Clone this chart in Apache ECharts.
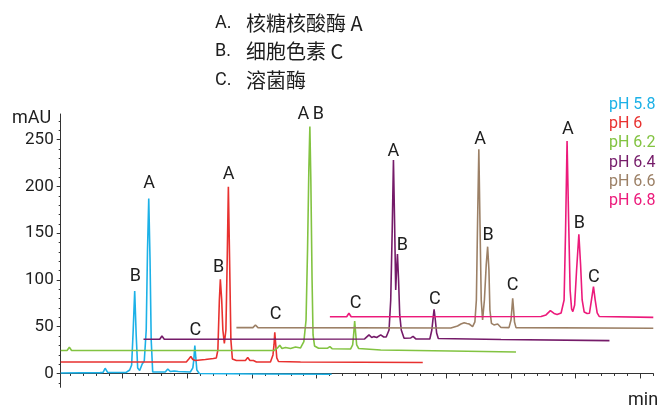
<!DOCTYPE html>
<html><head><meta charset="utf-8">
<script src="https://cdn.jsdelivr.net/npm/echarts@6/dist/echarts.min.js"></script>
<style>html,body{margin:0;padding:0;background:#fff}#c{width:663px;height:409px}</style>
</head><body><div id="c"></div>
<script>
// ---- data ----
const seriesNames = ['pH 5.8', 'pH 6', 'pH 6.2', 'pH 6.4', 'pH 6.6', 'pH 6.8'];
const ph58 = [[0.046,0.5],[0.655,0.9],[0.701,1.1],[0.732,5.6],[0.771,1.1],[1.057,1.1],[1.111,3.7],[1.142,9.1],[1.166,46.5],[1.189,88.2],[1.212,41.2],[1.235,5.9],[1.266,3.2],[1.305,10.2],[1.337,13.4],[1.367,46.5],[1.387,132],[1.406,187],[1.426,121.4],[1.444,35.8],[1.467,1.6],[1.506,1.6],[1.661,1.6],[1.700,4.8],[1.739,2.1],[1.800,2.7],[1.862,2.1],[2.048,1.6],[2.087,5.9],[2.102,14.4],[2.118,29.9],[2.133,16.6],[2.149,3.7],[2.187,0],[3.132,-0.5],[4.231,-0.9]];
const ph60 = [[0.046,12.3],[1.986,12.3],[2.025,15.5],[2.056,18.2],[2.087,15.0],[2.125,13.9],[2.280,15.0],[2.404,16.0],[2.450,16.6],[2.474,25.1],[2.497,78.6],[2.512,100.7],[2.533,78.6],[2.551,46.5],[2.574,32.1],[2.598,46.5],[2.618,121.4],[2.636,199.8],[2.655,121.4],[2.675,35.8],[2.698,15.5],[2.760,13.9],[2.899,13.9],[2.935,17.1],[2.969,13.9],[3.023,13.9],[3.070,12.3],[3.286,12.3],[3.325,19.8],[3.341,30.5],[3.353,44.1],[3.368,30.5],[3.384,16.6],[3.410,12.8],[3.751,12.3],[5.639,11.8]];
const ph62 = [[0.046,24.6],[0.144,24.6],[0.180,28.0],[0.214,24.6],[3.348,24.6],[3.395,27.3],[3.430,30.2],[3.464,26.7],[3.519,27.8],[3.596,26.7],[3.674,28.3],[3.751,27.3],[3.802,34.0],[3.836,57.2],[3.859,132.1],[3.879,217.6],[3.895,264.0],[3.910,206.9],[3.929,100.0],[3.944,41.2],[3.967,29.4],[4.029,27.0],[4.169,27.0],[4.204,28.7],[4.238,26.5],[4.525,26.2],[4.556,30.5],[4.571,41.2],[4.587,56.1],[4.602,43.3],[4.618,30.5],[4.649,26.7],[4.989,25.1],[6.073,24.1],[7.079,23.0]];
const ph64 = [[1.325,36.6],[1.576,36.6],[1.610,40.1],[1.646,36.6],[4.741,36.9],[4.808,41.2],[4.850,38.5],[4.885,39.4],[4.927,38.5],[4.989,41.2],[5.036,39.0],[5.074,39.0],[5.118,46.5],[5.144,78.6],[5.167,153.5],[5.186,228.3],[5.203,164.2],[5.221,89.3],[5.234,110.7],[5.248,127.8],[5.265,100.0],[5.283,62.6],[5.307,46.5],[5.350,37.6],[5.454,38.0],[5.489,39.6],[5.531,36.9],[5.748,36.9],[5.779,46.5],[5.799,59.4],[5.814,68.7],[5.833,57.2],[5.853,43.3],[5.879,37.4],[6.847,36.4],[8.523,35.1]];
const ph66 = [[2.760,49.0],[3.015,49.0],[3.054,51.9],[3.093,49.0],[6.073,48.7],[6.176,50.8],[6.228,52.9],[6.279,54.3],[6.320,53.5],[6.356,52.9],[6.409,50.1],[6.444,55.1],[6.467,78.6],[6.486,164.2],[6.505,239.8],[6.522,164.2],[6.542,78.6],[6.563,57.2],[6.591,78.6],[6.619,116.0],[6.641,135.6],[6.661,110.7],[6.676,67.9],[6.700,53.5],[6.738,51.9],[6.796,52.9],[6.847,49.2],[6.971,49.0],[7.002,57.2],[7.017,70.1],[7.028,80.4],[7.040,70.1],[7.056,55.1],[7.079,49.0],[9.2,48.3]];
const ph68 = [[4.204,60.7],[4.463,60.7],[4.498,64.4],[4.533,60.7],[7.466,61.0],[7.543,62.6],[7.610,67.2],[7.667,64.2],[7.714,63.1],[7.776,64.7],[7.822,78.6],[7.845,153.5],[7.868,248.7],[7.892,164.2],[7.915,89.3],[7.938,69.0],[7.957,66.1],[7.985,73.3],[8.015,110.7],[8.050,148.9],[8.077,116.0],[8.101,78.6],[8.132,65.8],[8.178,64.2],[8.214,64.4],[8.245,78.6],[8.276,92.8],[8.302,78.6],[8.333,64.7],[8.364,61.0],[9.2,60.0]];
const traces = [ph58, ph60, ph62, ph64, ph66, ph68];

const peakLabelText = ['B','A','C','B','A','C','A','B','C','A','B','C','A','B','C','A','B','C'];
const peakLabelX = [1.198,1.413,2.125,2.486,2.641,3.364,3.793,4.025,4.602,5.186,5.325,5.825,6.526,6.650,7.028,7.879,8.059,8.282];
const peakLabelY = [103.5,202.7,45.8,113.2,212.3,62.6,277.5,277.5,74.3,237.2,136.7,79.4,249.7,147.1,93.6,261.2,159.9,102.9];

const keyLetters = ['A.', 'B.', 'C.'];
const keyNames = ['核糖核酸酶 A', '细胞色素 C', '溶菌酶'];

const yTicks = [0, 50, 100, 150, 200, 250];
const yMinorTicks = [-10,10,20,30,40,60,70,80,90,110,120,130,140,160,170,180,190,210,220,230,240,260,270];
const xTicks = [1,2,3,4,5,6,7,8,9];
const xMinorTicks = [];
for (let i = 1; i <= 46; i++) { if (i % 5 !== 0) xMinorTicks.push(+(i * 0.2).toFixed(1)); }

// ---- styles ----
const colors = ['#1cb1e7', '#e8312f', '#82c341', '#751b69', '#9c8066', '#ec1a7b'];
const FONT = 'Roboto';
const TXT = '#1e1e1e';

const chart = echarts.init(document.getElementById('c'), null, {renderer: 'canvas'});

const series = traces.map((d, i) => ({
  name: seriesNames[i], type: 'line', data: d, symbol: 'none', smooth: false,
  lineStyle: {color: colors[i], width: 1.6}, itemStyle: {color: colors[i]},
  z: 2 + i
}));
series.push({
  type: 'scatter', name: 'labels', clip: false, symbol: 'circle', symbolSize: 0,
  itemStyle: {color: 'rgba(0,0,0,0)'},
  data: peakLabelText.map((t, i) => ({name: t, value: [peakLabelX[i], peakLabelY[i]]})),
  label: {show: true, position: [0, 0], align: 'center', verticalAlign: 'middle',
          formatter: '{b}', color: TXT, fontSize: 18, fontFamily: FONT,
          textBorderWidth: 0, opacity: 1},
  emphasis: {disabled: true},
  z: 20
});

const graphic = [];
keyLetters.forEach((l, i) => {
  const y = 23 + i * 28.5;
  graphic.push({type: 'text', x: 215, y: y, style: {text: l, fontSize: 18, fontFamily: FONT, fill: TXT, verticalAlign: 'middle'}});
  graphic.push({type: 'text', x: 246, y: y, style: {text: keyNames[i], fontSize: 20, fontFamily: 'Noto Sans CJK SC', fill: TXT, verticalAlign: 'middle'}});
});
graphic.push({type: 'text', x: 12, y: 118, style: {text: 'mAU', fontSize: 18, fontFamily: FONT, fill: TXT, verticalAlign: 'middle'}});
graphic.push({type: 'text', x: 628, y: 400, style: {text: 'min', fontSize: 18, fontFamily: FONT, fill: TXT, verticalAlign: 'middle'}});

const axisCol = '#333';
chart.setOption({
  animation: false,
  backgroundColor: '#fff',
  grid: {left: 60.7, right: 9.7, top: 114, bottom: 21.7},
  legend: {
    orient: 'vertical', left: 604, top: 95.4, padding: 0, itemWidth: 0, itemHeight: 0, itemGap: 0,
    icon: 'rect', selectedMode: false,
    textStyle: {fontFamily: FONT, fontSize: 16, lineHeight: 19.2},
    data: seriesNames.map((n, i) => ({name: n, textStyle: {color: colors[i]}}))
  },
  xAxis: [
    {type: 'value', min: 0.046, max: 9.2,
     axisLine: {show: true, lineStyle: {color: axisCol}},
     axisTick: {show: true, length: 5, customValues: xTicks, lineStyle: {color: axisCol}},
     axisLabel: {show: false}, splitLine: {show: false}},
    {type: 'value', min: 0.046, max: 9.2, position: 'bottom',
     axisLine: {show: false},
     axisTick: {show: true, length: 2.5, customValues: xMinorTicks, lineStyle: {color: axisCol}},
     axisLabel: {show: false}, splitLine: {show: false}}
  ],
  yAxis: [
    {type: 'value', min: -14.8, max: 277.5,
     axisLine: {show: true, lineStyle: {color: axisCol}},
     axisTick: {show: true, length: 4, customValues: yTicks, lineStyle: {color: axisCol}},
     axisLabel: {customValues: yTicks, margin: 7, fontSize: 17, color: TXT, fontFamily: FONT},
     splitLine: {show: false}},
    {type: 'value', min: -14.8, max: 277.5, position: 'left',
     axisLine: {show: false},
     axisTick: {show: true, length: 2, customValues: yMinorTicks, lineStyle: {color: axisCol}},
     axisLabel: {show: false}, splitLine: {show: false}}
  ],
  graphic: graphic,
  series: series
});
</script>
</body></html>
